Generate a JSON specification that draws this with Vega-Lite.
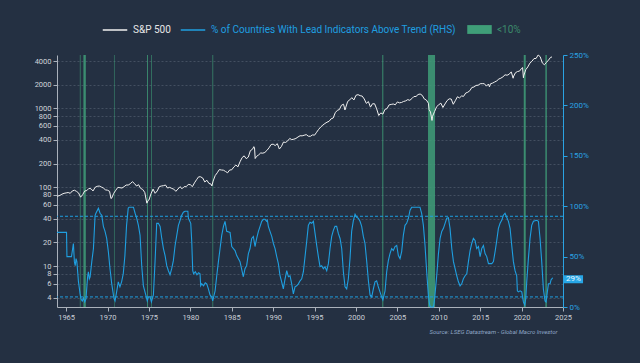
{
"$schema": "https://vega.github.io/schema/vega-lite/v6.json",
"width": 506, "height": 252,
"autosize": {"type": "none"},
"padding": {"left": 57, "top": 55, "right": 77, "bottom": 56},
"background": "#243042",
"config": {"view": {"stroke": null}, "font": "Roboto", "axis": {"labelFont": "Roboto", "titleFont": "Roboto"}, "legend": {"labelFont": "Roboto"}, "text": {"font": "Roboto"}},
"datasets": {
"bands": [
{"s":1966.66,"e":1966.74,"k":"<10%"},{"s":1967.09,"e":1967.38,"k":"<10%"},{"s":1970.78,"e":1970.85,"k":"<10%"},{"s":1974.77,"e":1974.88,"k":"<10%"},{"s":1975.26,"e":1975.34,"k":"<10%"},{"s":1982.67,"e":1982.76,"k":"<10%"},{"s":2003.18,"e":2003.3,"k":"<10%"},{"s":2008.7,"e":2009.55,"k":"<10%"},{"s":2020.26,"e":2020.5,"k":"<10%"},{"s":2022.87,"e":2023.05,"k":"<10%"}
],
"thr": [{"p":10},{"p":90}],
"spx": [
{"t":1963.92,"v":77},{"t":1964.25,"v":79},{"t":1964.5,"v":82},{"t":1964.75,"v":84},{"t":1965.0,"v":85},
{"t":1965.25,"v":86},{"t":1965.5,"v":84},{"t":1965.75,"v":90},{"t":1966.0,"v":92},
{"t":1966.25,"v":89},{"t":1966.5,"v":85},{"t":1966.75,"v":75},{"t":1967.0,"v":81},
{"t":1967.25,"v":90},{"t":1967.5,"v":91},{"t":1967.75,"v":97},{"t":1968.0,"v":96},
{"t":1968.25,"v":90},{"t":1968.5,"v":100},{"t":1968.75,"v":103},{"t":1969.0,"v":104},
{"t":1969.25,"v":101},{"t":1969.5,"v":98},{"t":1969.75,"v":93},{"t":1970.0,"v":92},
{"t":1970.25,"v":89},{"t":1970.42,"v":72},{"t":1970.5,"v":73},{"t":1970.75,"v":84},{"t":1971.0,"v":92},
{"t":1971.25,"v":100},{"t":1971.5,"v":99},{"t":1971.75,"v":98},{"t":1972.0,"v":102},
{"t":1972.25,"v":107},{"t":1972.5,"v":107},{"t":1972.75,"v":111},{"t":1973.0,"v":118},
{"t":1973.25,"v":112},{"t":1973.5,"v":104},{"t":1973.75,"v":108},{"t":1974.0,"v":97},
{"t":1974.25,"v":94},{"t":1974.5,"v":86},{"t":1974.75,"v":63},{"t":1974.9,"v":68},{"t":1975.0,"v":69},
{"t":1975.25,"v":83},{"t":1975.5,"v":95},{"t":1975.75,"v":84},{"t":1976.0,"v":90},
{"t":1976.25,"v":102},{"t":1976.5,"v":104},{"t":1976.75,"v":105},{"t":1977.0,"v":107},
{"t":1977.25,"v":98},{"t":1977.5,"v":100},{"t":1977.75,"v":97},{"t":1978.0,"v":95},
{"t":1978.25,"v":89},{"t":1978.5,"v":95},{"t":1978.75,"v":102},{"t":1979.0,"v":96},
{"t":1979.25,"v":102},{"t":1979.5,"v":102},{"t":1979.75,"v":109},{"t":1980.0,"v":108},
{"t":1980.25,"v":102},{"t":1980.5,"v":114},{"t":1980.75,"v":125},{"t":1981.0,"v":136},
{"t":1981.25,"v":136},{"t":1981.5,"v":131},{"t":1981.75,"v":117},{"t":1982.0,"v":123},
{"t":1982.25,"v":112},{"t":1982.5,"v":110},{"t":1982.6,"v":104},{"t":1982.75,"v":120},{"t":1983.0,"v":141},
{"t":1983.25,"v":153},{"t":1983.5,"v":168},{"t":1983.75,"v":166},{"t":1984.0,"v":165},
{"t":1984.25,"v":159},{"t":1984.5,"v":153},{"t":1984.75,"v":166},{"t":1985.0,"v":167},
{"t":1985.25,"v":181},{"t":1985.5,"v":192},{"t":1985.75,"v":182},{"t":1986.0,"v":211},
{"t":1986.25,"v":238},{"t":1986.5,"v":251},{"t":1986.75,"v":231},{"t":1987.0,"v":242},
{"t":1987.25,"v":292},{"t":1987.5,"v":304},{"t":1987.67,"v":328},{"t":1987.75,"v":318},{"t":1987.83,"v":232},{"t":1988.0,"v":247},
{"t":1988.25,"v":258},{"t":1988.5,"v":273},{"t":1988.75,"v":271},{"t":1989.0,"v":277},
{"t":1989.25,"v":294},{"t":1989.5,"v":317},{"t":1989.75,"v":349},{"t":1990.0,"v":353},
{"t":1990.25,"v":339},{"t":1990.5,"v":358},{"t":1990.75,"v":306},{"t":1991.0,"v":330},
{"t":1991.25,"v":375},{"t":1991.5,"v":371},{"t":1991.75,"v":387},{"t":1992.0,"v":417},
{"t":1992.25,"v":403},{"t":1992.5,"v":408},{"t":1992.75,"v":417},{"t":1993.0,"v":435},
{"t":1993.25,"v":451},{"t":1993.5,"v":450},{"t":1993.75,"v":458},{"t":1994.0,"v":466},
{"t":1994.25,"v":445},{"t":1994.5,"v":444},{"t":1994.75,"v":462},{"t":1995.0,"v":459},
{"t":1995.25,"v":500},{"t":1995.5,"v":544},{"t":1995.75,"v":584},{"t":1996.0,"v":615},
{"t":1996.25,"v":645},{"t":1996.5,"v":670},{"t":1996.75,"v":687},{"t":1997.0,"v":740},
{"t":1997.25,"v":757},{"t":1997.5,"v":885},{"t":1997.75,"v":947},{"t":1998.0,"v":970},
{"t":1998.25,"v":1101},{"t":1998.5,"v":1133},{"t":1998.67,"v":957},{"t":1998.75,"v":1017},{"t":1999.0,"v":1229},
{"t":1999.25,"v":1286},{"t":1999.5,"v":1372},{"t":1999.75,"v":1282},{"t":2000.0,"v":1469},
{"t":2000.25,"v":1498},{"t":2000.5,"v":1454},{"t":2000.75,"v":1436},{"t":2001.0,"v":1320},
{"t":2001.25,"v":1160},{"t":2001.5,"v":1224},{"t":2001.75,"v":1040},{"t":2002.0,"v":1148},
{"t":2002.25,"v":1147},{"t":2002.5,"v":989},{"t":2002.75,"v":815},{"t":2003.0,"v":879},
{"t":2003.25,"v":848},{"t":2003.5,"v":974},{"t":2003.75,"v":995},{"t":2004.0,"v":1111},
{"t":2004.25,"v":1126},{"t":2004.5,"v":1140},{"t":2004.75,"v":1114},{"t":2005.0,"v":1211},
{"t":2005.25,"v":1180},{"t":2005.5,"v":1191},{"t":2005.75,"v":1228},{"t":2006.0,"v":1248},
{"t":2006.25,"v":1294},{"t":2006.5,"v":1270},{"t":2006.75,"v":1335},{"t":2007.0,"v":1418},
{"t":2007.25,"v":1420},{"t":2007.5,"v":1503},{"t":2007.75,"v":1526},{"t":2008.0,"v":1468},
{"t":2008.25,"v":1322},{"t":2008.5,"v":1280},{"t":2008.75,"v":1166},{"t":2008.83,"v":968},{"t":2009.0,"v":903},
{"t":2009.18,"v":705},{"t":2009.25,"v":797},{"t":2009.5,"v":919},{"t":2009.75,"v":1057},{"t":2010.0,"v":1115},
{"t":2010.25,"v":1169},{"t":2010.5,"v":1030},{"t":2010.75,"v":1141},{"t":2011.0,"v":1257},
{"t":2011.25,"v":1325},{"t":2011.5,"v":1320},{"t":2011.75,"v":1131},{"t":2012.0,"v":1257},
{"t":2012.25,"v":1408},{"t":2012.5,"v":1362},{"t":2012.75,"v":1440},{"t":2013.0,"v":1426},
{"t":2013.25,"v":1569},{"t":2013.5,"v":1606},{"t":2013.75,"v":1681},{"t":2014.0,"v":1848},
{"t":2014.25,"v":1872},{"t":2014.5,"v":1960},{"t":2014.75,"v":1972},{"t":2015.0,"v":2058},
{"t":2015.25,"v":2067},{"t":2015.5,"v":2063},{"t":2015.75,"v":1920},{"t":2016.0,"v":2043},
{"t":2016.12,"v":1880},{"t":2016.25,"v":2059},{"t":2016.5,"v":2098},{"t":2016.75,"v":2168},{"t":2017.0,"v":2238},
{"t":2017.25,"v":2362},{"t":2017.5,"v":2423},{"t":2017.75,"v":2519},{"t":2018.0,"v":2673},
{"t":2018.25,"v":2640},{"t":2018.5,"v":2718},{"t":2018.75,"v":2913},{"t":2018.98,"v":2420},{"t":2019.0,"v":2506},
{"t":2019.25,"v":2834},{"t":2019.5,"v":2941},{"t":2019.75,"v":2976},{"t":2020.0,"v":3230},
{"t":2020.12,"v":3300},{"t":2020.22,"v":2450},{"t":2020.25,"v":2584},{"t":2020.5,"v":3100},{"t":2020.75,"v":3363},{"t":2021.0,"v":3756},
{"t":2021.25,"v":3972},{"t":2021.5,"v":4297},{"t":2021.75,"v":4307},{"t":2022.0,"v":4766},
{"t":2022.25,"v":4530},{"t":2022.5,"v":3785},{"t":2022.75,"v":3585},{"t":2023.0,"v":3839},
{"t":2023.25,"v":4109},{"t":2023.5,"v":4450},{"t":2023.67,"v":4500}
],
"lead": [
{"t":1963.9,"p":74},{"t":1965.05,"p":74},{"t":1965.1,"p":50},{"t":1965.65,"p":50},{"t":1965.88,"p":63},{"t":1966.0,"p":45},{"t":1966.1,"p":41},{"t":1966.2,"p":48},{"t":1966.3,"p":45},{"t":1966.49,"p":25},{"t":1966.69,"p":13},{"t":1966.8,"p":8},{"t":1966.95,"p":6},{"t":1967.1,"p":9},{"t":1967.25,"p":5},{"t":1967.4,"p":8},{"t":1967.55,"p":25},{"t":1967.61,"p":31},{"t":1967.69,"p":35},{"t":1967.8,"p":28},{"t":1967.9,"p":30},
{"t":1968.1,"p":45},{"t":1968.3,"p":58},{"t":1968.5,"p":91},{"t":1968.6,"p":93},{"t":1968.9,"p":98},{"t":1969.1,"p":93},{"t":1969.3,"p":91},{"t":1969.5,"p":80},{"t":1969.7,"p":75},{"t":1969.9,"p":68},
{"t":1970.1,"p":55},{"t":1970.3,"p":38},{"t":1970.51,"p":23},{"t":1970.71,"p":12},{"t":1970.8,"p":8},{"t":1970.91,"p":6},{"t":1971.1,"p":15},{"t":1971.3,"p":25},{"t":1971.5,"p":20},{"t":1971.7,"p":25},{"t":1971.9,"p":33},
{"t":1972.1,"p":51},{"t":1972.3,"p":81},{"t":1972.5,"p":98},{"t":1972.6,"p":99},{"t":1973.13,"p":99},{"t":1973.33,"p":93},{"t":1973.53,"p":88},{"t":1973.73,"p":81},{"t":1973.93,"p":71},
{"t":1974.13,"p":41},{"t":1974.33,"p":21},{"t":1974.62,"p":12},{"t":1974.8,"p":6},{"t":1974.95,"p":10},{"t":1975.14,"p":10},{"t":1975.3,"p":5},{"t":1975.54,"p":12},{"t":1975.74,"p":45},{"t":1975.94,"p":83},
{"t":1976.14,"p":83},{"t":1976.35,"p":80},{"t":1976.55,"p":68},{"t":1976.75,"p":58},{"t":1976.95,"p":51},{"t":1977.15,"p":41},{"t":1977.35,"p":36},{"t":1977.55,"p":32},{"t":1977.75,"p":38},{"t":1977.95,"p":46},
{"t":1978.16,"p":61},{"t":1978.56,"p":81},{"t":1978.76,"p":86},{"t":1978.96,"p":91},{"t":1979.16,"p":94},{"t":1979.36,"p":95},{"t":1979.7,"p":95},{"t":1979.77,"p":88},
{"t":1980.05,"p":83},{"t":1980.17,"p":65},{"t":1980.29,"p":36},{"t":1980.4,"p":33},{"t":1980.6,"p":35},{"t":1980.8,"p":32},{"t":1981.0,"p":34},{"t":1981.17,"p":33},{"t":1981.25,"p":21},{"t":1981.38,"p":23},{"t":1981.6,"p":21},{"t":1981.8,"p":24},{"t":1981.98,"p":23},
{"t":1982.18,"p":18},{"t":1982.38,"p":12},{"t":1982.58,"p":10},{"t":1982.7,"p":6},{"t":1982.99,"p":16},{"t":1983.19,"p":31},{"t":1983.39,"p":45},{"t":1983.59,"p":58},{"t":1983.79,"p":71},
{"t":1984.0,"p":80},{"t":1984.19,"p":85},{"t":1984.39,"p":75},{"t":1984.8,"p":74},{"t":1985.0,"p":60},{"t":1985.4,"p":56},{"t":1985.6,"p":51},{"t":1986.0,"p":45},{"t":1986.4,"p":30},{"t":1986.6,"p":38},{"t":1986.8,"p":41},
{"t":1987.01,"p":53},{"t":1987.21,"p":58},{"t":1987.41,"p":68},{"t":1987.61,"p":70},{"t":1987.81,"p":60},{"t":1988.01,"p":68},{"t":1988.22,"p":75},{"t":1988.42,"p":80},{"t":1988.62,"p":85},{"t":1988.82,"p":87},
{"t":1989.02,"p":87},{"t":1989.22,"p":85},{"t":1989.3,"p":86},{"t":1989.42,"p":80},{"t":1989.62,"p":75},{"t":1989.83,"p":70},{"t":1990.03,"p":63},{"t":1990.23,"p":58},{"t":1990.43,"p":50},{"t":1990.63,"p":43},{"t":1990.83,"p":31},
{"t":1991.03,"p":25},{"t":1991.23,"p":18},{"t":1991.44,"p":28},{"t":1991.64,"p":36},{"t":1991.84,"p":30},{"t":1992.04,"p":31},{"t":1992.24,"p":23},{"t":1992.44,"p":13},{"t":1992.64,"p":20},{"t":1992.84,"p":21},
{"t":1993.05,"p":23},{"t":1993.25,"p":26},{"t":1993.45,"p":28},{"t":1993.65,"p":35},{"t":1993.85,"p":50},{"t":1994.05,"p":65},{"t":1994.25,"p":81},{"t":1994.45,"p":84},{"t":1994.65,"p":83},{"t":1994.86,"p":85},
{"t":1995.06,"p":73},{"t":1995.26,"p":61},{"t":1995.46,"p":50},{"t":1995.66,"p":40},{"t":1995.86,"p":41},{"t":1996.06,"p":38},{"t":1996.26,"p":40},{"t":1996.47,"p":36},{"t":1996.67,"p":43},{"t":1996.87,"p":58},
{"t":1997.07,"p":70},{"t":1997.27,"p":76},{"t":1997.47,"p":80},{"t":1997.67,"p":80},{"t":1997.87,"p":73},{"t":1998.08,"p":68},{"t":1998.28,"p":58},{"t":1998.48,"p":35},{"t":1998.68,"p":20},{"t":1998.88,"p":18},
{"t":1999.08,"p":28},{"t":1999.28,"p":48},{"t":1999.48,"p":75},{"t":1999.69,"p":86},{"t":1999.89,"p":92},{"t":2000.09,"p":89},{"t":2000.29,"p":88},{"t":2000.49,"p":85},{"t":2000.69,"p":80},{"t":2000.89,"p":70},
{"t":2001.09,"p":63},{"t":2001.3,"p":45},{"t":2001.5,"p":26},{"t":2001.7,"p":12},{"t":2001.9,"p":10},{"t":2002.1,"p":18},{"t":2002.3,"p":25},{"t":2002.5,"p":26},{"t":2002.7,"p":20},{"t":2002.9,"p":15},
{"t":2003.1,"p":10},{"t":2003.25,"p":7},{"t":2003.51,"p":16},{"t":2003.71,"p":35},{"t":2003.91,"p":46},{"t":2004.11,"p":53},{"t":2004.31,"p":58},{"t":2004.51,"p":56},{"t":2004.72,"p":60},{"t":2004.92,"p":61},
{"t":2005.12,"p":51},{"t":2005.32,"p":48},{"t":2005.52,"p":55},{"t":2005.72,"p":71},{"t":2005.92,"p":81},{"t":2006.12,"p":83},{"t":2006.33,"p":88},{"t":2006.53,"p":96},{"t":2006.73,"p":99},{"t":2007.73,"p":99},
{"t":2007.93,"p":93},{"t":2008.14,"p":81},{"t":2008.34,"p":61},{"t":2008.54,"p":35},{"t":2008.74,"p":12},{"t":2008.9,"p":2},{"t":2009.0,"p":0},{"t":2009.35,"p":0},{"t":2009.45,"p":5},{"t":2009.55,"p":13},
{"t":2009.75,"p":31},{"t":2009.96,"p":53},{"t":2010.16,"p":68},{"t":2010.36,"p":75},{"t":2010.56,"p":78},{"t":2010.76,"p":83},{"t":2010.96,"p":88},{"t":2011.16,"p":88.5},{"t":2011.36,"p":78},{"t":2011.57,"p":58},
{"t":2011.77,"p":45},{"t":2011.97,"p":38},{"t":2012.17,"p":31},{"t":2012.37,"p":25},{"t":2012.57,"p":21},{"t":2012.77,"p":23},{"t":2012.97,"p":28},{"t":2013.18,"p":31},{"t":2013.38,"p":33},{"t":2013.58,"p":45},
{"t":2013.78,"p":56},{"t":2013.98,"p":63},{"t":2014.18,"p":68},{"t":2014.38,"p":66},{"t":2014.58,"p":58},{"t":2014.79,"p":60},{"t":2014.99,"p":50},{"t":2015.19,"p":58},{"t":2015.39,"p":61},{"t":2015.59,"p":53},
{"t":2015.79,"p":50},{"t":2016.0,"p":43},{"t":2016.4,"p":43},{"t":2016.6,"p":45},{"t":2016.8,"p":55},{"t":2017.0,"p":66},{"t":2017.2,"p":78},{"t":2017.4,"p":83},{"t":2017.6,"p":86},{"t":2017.8,"p":91},
{"t":2018.0,"p":93},{"t":2018.2,"p":89},{"t":2018.41,"p":85},{"t":2018.61,"p":78},{"t":2018.81,"p":61},{"t":2019.01,"p":45},{"t":2019.21,"p":36},{"t":2019.41,"p":31},{"t":2019.49,"p":16},{"t":2019.61,"p":15},
{"t":2019.82,"p":16},{"t":2020.02,"p":15},{"t":2020.22,"p":5},{"t":2020.38,"p":2},{"t":2020.5,"p":8},{"t":2020.62,"p":25},{"t":2020.82,"p":48},{"t":2021.02,"p":68},{"t":2021.22,"p":81},{"t":2021.43,"p":85},
{"t":2021.83,"p":86},{"t":2022.03,"p":85},{"t":2022.23,"p":68},{"t":2022.43,"p":45},{"t":2022.63,"p":18},{"t":2022.83,"p":6},{"t":2022.95,"p":5},{"t":2023.11,"p":15},{"t":2023.24,"p":23},{"t":2023.44,"p":23},
{"t":2023.56,"p":27},{"t":2023.76,"p":29}
]
},
"layer": [
{"data": {"name": "bands"}, "mark": {"type": "rect", "opacity": 0.85},
 "encoding": {
  "x": {"field": "s", "type": "quantitative", "scale": {"domain": [1963.9, 2025], "nice": false, "zero": false},
   "axis": {"values": [1965,1970,1975,1980,1985,1990,1995,2000,2005,2010,2015,2020,2025], "format": "d", "grid": false,
    "title": "Source: LSEG Datastream - Global Macro Investor", "titleFontSize": 6, "titleFontStyle": "italic", "titleFontWeight": "normal", "titleColor": "#8fa7c6", "titleX": 500, "titleY": 24, "titleAlign": "right", "titleBaseline": "middle",
    "labelColor": "#c9ced6", "labelFontSize": 7.5, "labelFlush": false, "labelOverlap": false, "labelPadding": 2, "tickColor": "#aab1bb", "domainColor": "#aab1bb", "tickSize": 4}},
  "x2": {"field": "e"},
  "color": {"field": "k", "type": "nominal", "scale": {"domain": ["<10%"], "range": ["#3f9e78"]},
   "legend": {"orient": "none", "direction": "horizontal", "legendX": 410, "legendY": -38, "title": null,
    "symbolType": "M-1,-0.36H1V0.36H-1Z", "symbolSize": 600, "symbolOpacity": 1, "symbolStrokeWidth": 0, "labelColor": "#3c8a6b", "labelFontSize": 10, "labelOffset": 5}}
 }},
{"data": {"name": "spx"}, "mark": {"type": "line", "strokeWidth": 1},
 "encoding": {
  "x": {"field": "t", "type": "quantitative", "scale": {"domain": [1963.9, 2025], "nice": false, "zero": false}},
  "y": {"field": "v", "type": "quantitative", "scale": {"type": "log", "domain": [3.04, 4766], "nice": false},
   "axis": {"orient": "left", "values": [4,6,8,10,20,40,60,80,100,200,400,600,800,1000,2000,4000], "format": "d", "title": null,
    "grid": true, "gridColor": "#6a7585", "gridOpacity": 0.45, "gridDash": [2,2], "labelColor": "#d0d4da", "labelFontSize": 7.5, "labelPadding": 2, "labelOverlap": false,
    "tickColor": "#aab1bb", "domainColor": "#aab1bb", "tickSize": 4}},
  "color": {"datum": "S&P 500", "type": "nominal", "scale": {"domain": ["S&P 500"], "range": ["#f0f0f0"]},
   "legend": {"orient": "none", "direction": "horizontal", "legendX": 45, "legendY": -38, "title": null,
    "symbolType": "stroke", "symbolSize": 600, "symbolStrokeWidth": 1.5, "labelColor": "#e6e6e6", "labelFontSize": 10, "labelOffset": 5}}
 }},
{"layer": [
 {"data": {"name": "lead"}, "mark": {"type": "line", "strokeWidth": 1.1},
  "encoding": {
   "x": {"field": "t", "type": "quantitative", "scale": {"domain": [1963.9, 2025], "nice": false, "zero": false}},
   "y": {"field": "p", "type": "quantitative", "scale": {"domain": [0, 250], "nice": false},
    "axis": {"orient": "right", "values": [0,50,100,150,200,250], "labelExpr": "datum.value + '%'", "title": null, "grid": false,
     "labelColor": "#2aa3e3", "labelFontSize": 8, "labelPadding": 2, "tickColor": "#2aa3e3", "domainColor": "#2aa3e3", "tickSize": 4}},
   "color": {"datum": "% of Countries With Lead Indicators Above Trend (RHS)", "type": "nominal",
    "scale": {"domain": ["% of Countries With Lead Indicators Above Trend (RHS)"], "range": ["#1f9fe0"]},
    "legend": {"orient": "none", "direction": "horizontal", "legendX": 123, "legendY": -38, "title": null,
     "symbolType": "stroke", "symbolSize": 600, "symbolStrokeWidth": 1.5, "labelColor": "#1f9fe0", "labelFontSize": 10, "labelOffset": 5, "labelLimit": 400}}
  }},
 {"data": {"name": "thr"}, "mark": {"type": "rule", "strokeDash": [3,2], "color": "#1f9fe0", "strokeWidth": 1},
  "encoding": {"y": {"field": "p", "type": "quantitative", "scale": {"domain": [0, 250], "nice": false}}}},
 {"data": {"values": [{"a": 2025.12, "b": 2027.42, "lo": 23.5, "hi": 31.5}]}, "mark": {"type": "rect", "color": "#27a6e6"},
  "encoding": {
   "x": {"field": "a", "type": "quantitative", "scale": {"domain": [1963.9, 2025], "nice": false, "zero": false}},
   "x2": {"field": "b"},
   "y": {"field": "lo", "type": "quantitative", "scale": {"domain": [0, 250], "nice": false}},
   "y2": {"field": "hi"}}},
 {"data": {"values": [{"a": 2026.27, "p": 27.5, "txt": "29%"}]}, "mark": {"type": "text", "fontSize": 8, "color": "#eaf6fd", "baseline": "middle", "align": "center"},
  "encoding": {
   "x": {"field": "a", "type": "quantitative", "scale": {"domain": [1963.9, 2025], "nice": false, "zero": false}},
   "y": {"field": "p", "type": "quantitative", "scale": {"domain": [0, 250], "nice": false}},
   "text": {"field": "txt"}}}
]}
],
"resolve": {"scale": {"y": "independent", "color": "independent"}}
}
